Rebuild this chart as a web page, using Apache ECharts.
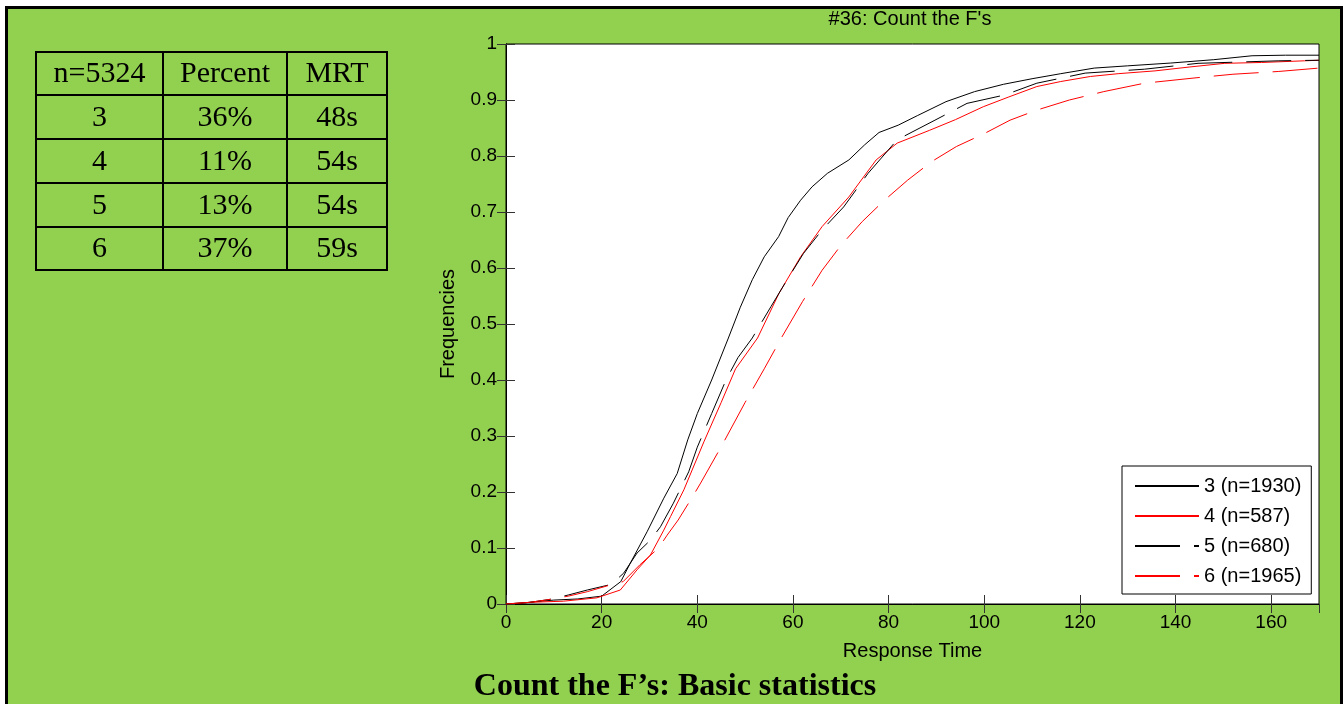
<!DOCTYPE html>
<html>
<head>
<meta charset="utf-8">
<script src="https://cdn.jsdelivr.net/npm/echarts@6/dist/echarts.min.js"></script>
<style>
  html, body { margin: 0; padding: 0; background: #fff; overflow: hidden; }
  #frame {
    position: absolute; left: 5px; top: 6px; width: 1338px; height: 710px;
    box-sizing: border-box; border: 3px solid #000; border-bottom: none;
    background: #92d050;
  }
  #chart { position: absolute; left: 0; top: 0; width: 1343px; height: 704px; }
</style>
</head>
<body>
<div id="frame"></div>
<div id="chart"></div>
<script>
// summary table
const tableHead = ['n=5324', 'Percent', 'MRT']
const groups = ['3', '4', '5', '6']
const percents = ['36%', '11%', '13%', '37%']
const mrts = ['48s', '54s', '54s', '59s']

// legend names
const seriesNames = ['3 (n=1930)', '4 (n=587)', '5 (n=680)', '6 (n=1965)']

// cumulative frequencies: [response time, frequency]
const cdf3 = [
  [0, 0], [3, 0.001], [6, 0.004], [10, 0.007], [15, 0.009], [20, 0.014], [24, 0.04],
  [26, 0.073], [29.5, 0.129], [33, 0.189], [35.8, 0.233], [38, 0.293], [40, 0.34],
  [43, 0.4], [46.5, 0.475], [49, 0.53], [51.5, 0.579], [54, 0.62], [57, 0.656],
  [59, 0.69], [61.6, 0.721], [64, 0.745], [67.2, 0.769], [71.7, 0.793], [75, 0.82],
  [78, 0.842], [82, 0.855], [86, 0.872], [92, 0.897], [98, 0.915], [104, 0.928],
  [110, 0.938], [116, 0.947], [123, 0.957], [130, 0.961], [139, 0.966], [148, 0.972],
  [156, 0.979], [163, 0.98], [170, 0.98]
]
const cdf4 = [
  [0, 0], [5, 0.003], [12, 0.005], [19, 0.011], [23.9, 0.025], [27.4, 0.061],
  [30.2, 0.0875], [33, 0.132], [34.4, 0.156], [37.2, 0.204], [41.4, 0.29], [45, 0.36],
  [48, 0.42], [52.6, 0.475], [57.1, 0.555], [61.6, 0.62], [66.1, 0.674], [71.7, 0.727],
  [77.4, 0.793], [81.8, 0.823], [88.6, 0.846], [94, 0.865], [99.8, 0.888], [105, 0.905],
  [111, 0.924], [116, 0.933], [122.2, 0.942], [128, 0.947], [135.7, 0.952], [143, 0.959],
  [150.3, 0.9655], [158, 0.967], [167, 0.97], [170, 0.971]
]
const cdf5 = [
  [0, 0], [5, 0.003], [9, 0.008], [13, 0.016], [17, 0.025], [22, 0.035], [24.6, 0.055],
  [27.4, 0.091], [30.2, 0.114], [32.3, 0.138], [35, 0.18], [38.2, 0.236], [40, 0.28],
  [43, 0.34], [46, 0.4], [48.5, 0.44], [51.5, 0.475], [55.4, 0.531], [58.5, 0.575],
  [62.2, 0.626], [66.1, 0.668], [70.6, 0.709], [75.7, 0.769], [81.8, 0.829], [89.7, 0.864],
  [96.4, 0.894], [104.3, 0.909], [111, 0.93], [121.1, 0.948], [133.5, 0.955],
  [144.7, 0.9655], [161.6, 0.97], [170, 0.971]
]
const cdf6 = [
  [0, 0], [5, 0.003], [9, 0.008], [13, 0.014], [17, 0.022], [21.8, 0.034], [24.5, 0.04],
  [28, 0.07], [31.9, 0.1], [33.7, 0.123], [36, 0.15], [38.9, 0.19], [40.7, 0.216],
  [45.2, 0.284], [50, 0.36], [54, 0.42], [57.7, 0.477], [62, 0.54], [66.1, 0.596],
  [70, 0.64], [74.5, 0.683], [79, 0.72], [84, 0.757], [89, 0.79], [94.2, 0.817],
  [100, 0.84], [105.4, 0.864], [111, 0.882], [117.8, 0.9], [125, 0.915], [133.5, 0.93],
  [144.7, 0.94], [152, 0.946], [161.6, 0.951], [170, 0.957]
]

const SANS = "'Liberation Sans', Arial, sans-serif"
const SERIF = "'Liberation Serif', 'Times New Roman', serif"
const DASH = [45, 14]

const chart = echarts.init(document.getElementById('chart'))

// table layout (pixels)
const colX = [36, 163, 287, 387]
const rowY = [52, 95, 139, 183, 227, 270]

function tableGraphics() {
  const els = []
  const rows = [tableHead].concat(groups.map((g, i) => [g, percents[i], mrts[i]]))
  rows.forEach((row, r) => {
    row.forEach((txt, c) => {
      els.push({
        type: 'text',
        x: (colX[c] + colX[c + 1]) / 2,
        y: (rowY[r] + rowY[r + 1]) / 2 + 1,
        style: {
          text: txt, fill: '#000', font: '30px ' + SERIF,
          align: 'center', verticalAlign: 'middle'
        }
      })
    })
  })
  colX.forEach((x) => {
    els.push({ type: 'line', shape: { x1: x, y1: rowY[0] - 1, x2: x, y2: rowY[rowY.length - 1] + 1 }, style: { stroke: '#000', lineWidth: 2 } })
  })
  rowY.forEach((y) => {
    els.push({ type: 'line', shape: { x1: colX[0], y1: y, x2: colX[colX.length - 1], y2: y }, style: { stroke: '#000', lineWidth: 2 } })
  })
  return els
}

function makeSeries(name, data, color, dashed) {
  return {
    name,
    type: 'line',
    data,
    symbol: 'none',
    smooth: false,
    silent: true,
    lineStyle: { color, width: 1, type: dashed ? DASH : 'solid' },
    itemStyle: { color }
  }
}

const axisCommon = {
  type: 'value',
  splitLine: { show: false },
  axisLine: { show: true, lineStyle: { color: '#000', width: 1 } },
  axisTick: { show: true, inside: true, length: 9, lineStyle: { color: '#333' } }
}

chart.setOption({
  animation: false,
  textStyle: { fontFamily: SANS },
  grid: {
    left: 506, top: 44, width: 813, height: 560,
    show: true, backgroundColor: '#fff', borderColor: '#000', borderWidth: 1
  },
  legend: {
    orient: 'vertical',
    left: 1122, top: 466,
    padding: [10, 10, 8, 12],
    itemWidth: 64, itemHeight: 14, itemGap: 10,
    itemStyle: { opacity: 0 },
    backgroundColor: '#fff', borderColor: '#000', borderWidth: 1, borderRadius: 0,
    textStyle: { color: '#000', fontSize: 20, fontFamily: SANS },
    data: seriesNames
  },
  xAxis: [
    Object.assign({}, axisCommon, {
      min: 0, max: 170, interval: 20, position: 'bottom',
      axisLabel: { color: '#000', fontSize: 19, margin: 9, showMaxLabel: false, fontFamily: SANS },
      name: 'Response Time', nameLocation: 'middle', nameGap: 37,
      nameTextStyle: { color: '#000', fontSize: 20, fontFamily: SANS }
    }),
    Object.assign({}, axisCommon, {
      min: 0, max: 170, interval: 20, position: 'top',
      axisLabel: { show: false }
    })
  ],
  yAxis: [
    Object.assign({}, axisCommon, {
      min: 0, max: 1, interval: 0.1, position: 'left',
      axisLabel: { color: '#000', fontSize: 19, margin: 9, fontFamily: SANS },
      name: 'Frequencies', nameLocation: 'middle', nameGap: 48,
      nameTextStyle: { color: '#000', fontSize: 20, fontFamily: SANS }
    }),
    Object.assign({}, axisCommon, {
      min: 0, max: 1, interval: 0.1, position: 'right',
      axisLabel: { show: false }
    })
  ],
  series: [
    makeSeries(seriesNames[0], cdf3, '#000000', false),
    makeSeries(seriesNames[1], cdf4, '#ff0000', false),
    makeSeries(seriesNames[2], cdf5, '#000000', true),
    makeSeries(seriesNames[3], cdf6, '#ff0000', true)
  ],
  graphic: tableGraphics().concat([
    {
      type: 'text', x: 910, y: 19,
      style: { text: "#36: Count the F's", fill: '#000', font: '20px ' + SANS, align: 'center', verticalAlign: 'middle' }
    },
    {
      type: 'text', x: 675, y: 687,
      style: { text: 'Count the F’s: Basic statistics', fill: '#000', font: 'bold 32px ' + SERIF, align: 'center', verticalAlign: 'middle' }
    }
  ])
})
</script>
</body>
</html>
